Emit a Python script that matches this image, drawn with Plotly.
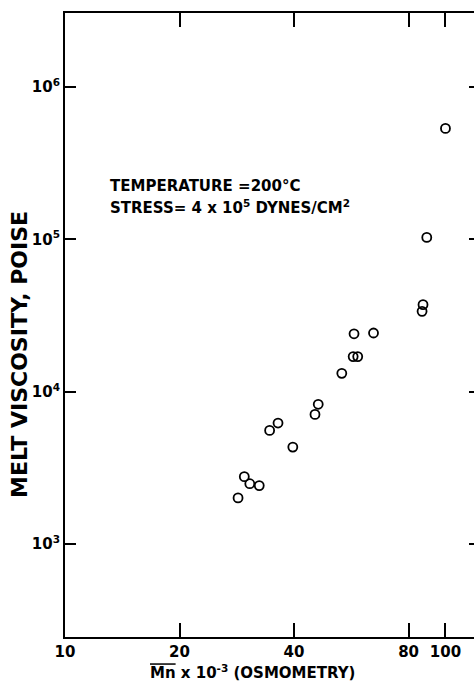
import plotly.graph_objects as go

# Mn x 10^-3 (osmometry) and melt viscosity (poise)
mn = [28.5, 29.6, 30.6, 32.4, 34.5, 36.3, 39.7, 45.4, 46.3, 53.4, 57.2, 58.8,
      57.5, 64.7, 86.8, 87.3, 89.3, 100]
visc = [2010, 2770, 2490, 2420, 5570, 6230, 4330, 7100, 8270, 13200, 17000, 17000,
        24000, 24300, 33700, 37300, 103000, 535000]

x_tickvals = [10, 20, 40, 80, 100]
x_ticktext = ["10", "20", "40", "80", "100"]
y_tickvals = [1e3, 1e4, 1e5, 1e6]
y_ticktext = ["10<sup>3</sup>", "10<sup>4</sup>", "10<sup>5</sup>", "10<sup>6</sup>"]

W, H = 474, 688
ML, MR, MT, MB = 65, 0, 13, 51
PW, PH = W - ML - MR, H - MT - MB

def px_x(p):
    return (p - ML) / PW

def px_y(p):
    return (H - MB - p) / PH

fig = go.Figure()
fig.add_trace(go.Scatter(
    x=mn, y=visc, mode="markers",
    marker=dict(symbol="circle-open", size=9, color="black",
                line=dict(width=1.8, color="black")),
    showlegend=False, hoverinfo="skip"))
# invisible companion trace to carry the right-hand tick axis
fig.add_trace(go.Scatter(
    x=mn, y=visc, mode="markers", yaxis="y2",
    marker=dict(opacity=0), showlegend=False, hoverinfo="skip"))

yr = [2.39, 6.486]
fig.update_layout(
    width=W, height=H,
    margin=dict(l=ML, r=MR, t=MT, b=MB, pad=0),
    paper_bgcolor="white", plot_bgcolor="white",
    font=dict(family="DejaVu Sans", color="black", weight="bold"),
    xaxis=dict(type="log", range=[1, 2.075], tickvals=x_tickvals, ticktext=x_ticktext,
               ticks="inside", ticklen=14, tickwidth=2, tickcolor="black",
               showline=True, linewidth=2, linecolor="black", mirror="ticks",
               showgrid=False, zeroline=False, tickfont=dict(size=15)),
    yaxis=dict(type="log", range=yr, tickvals=y_tickvals, ticktext=y_ticktext,
               ticks="inside", ticklen=11, tickwidth=2, tickcolor="black",
               showline=True, linewidth=2, linecolor="black", mirror=False,
               showgrid=False, zeroline=False, tickfont=dict(size=15)),
    yaxis2=dict(type="log", range=yr, overlaying="y", side="right",
                tickvals=y_tickvals, ticks="inside", ticklen=5, tickwidth=2,
                tickcolor="black", showticklabels=False, showline=False,
                showgrid=False, zeroline=False),
    annotations=[
        dict(text="TEMPERATURE =200°C",
             xref="paper", yref="paper", x=px_x(108), y=px_y(175),
             xanchor="left", yanchor="top", align="left", showarrow=False,
             font=dict(size=15)),
        dict(text="STRESS= 4 x 10<sup>5</sup> DYNES/CM<sup>2</sup>",
             xref="paper", yref="paper", x=px_x(108), y=px_y(195),
             xanchor="left", yanchor="top", align="left", showarrow=False,
             font=dict(size=15)),
        dict(text="MELT VISCOSITY, POISE", textangle=-90,
             xref="paper", yref="paper", x=px_x(19), y=px_y(355),
             xanchor="center", yanchor="middle", showarrow=False,
             font=dict(size=22)),
        dict(text='<span style="text-decoration:overline">Mn</span> x 10<sup>-3</sup> (OSMOMETRY)',
             xref="paper", yref="paper", x=px_x(252), y=px_y(672),
             xanchor="center", yanchor="middle", showarrow=False,
             font=dict(size=15)),
    ],
)

fig.write_html("out.html")
